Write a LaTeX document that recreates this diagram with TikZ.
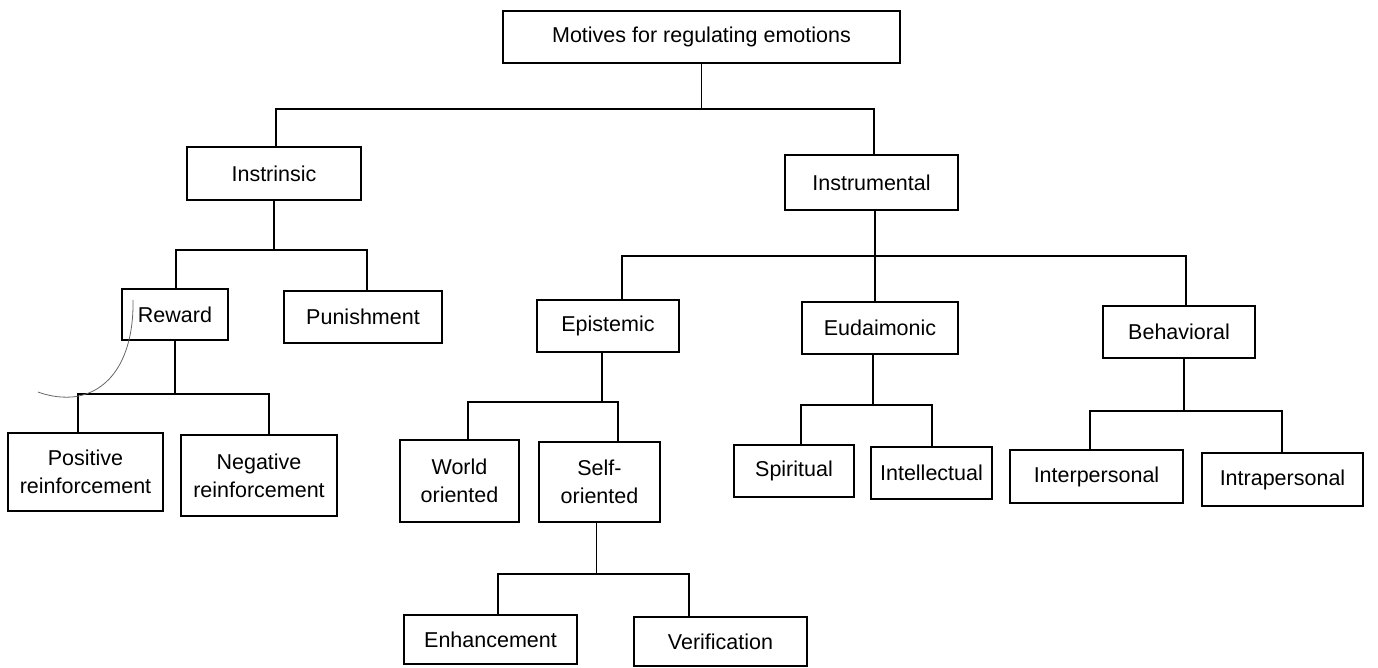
\documentclass[tikz,border=0pt]{standalone}
\usepackage{fontspec}
\setmainfont{Liberation Sans}
\begin{document}
\begin{tikzpicture}[x=0.5pt,y=-0.5pt,
  box/.style={draw, line width=0.9pt, inner sep=0pt, align=center,
    font=\fontsize{10.75}{14}\selectfont},
  conn/.style={line width=0.9pt},
  pencil/.style={draw=black!60, line width=0.4pt}]
\useasboundingbox (0,0) rectangle (1378,668);

% nodes
\node[box, minimum width=198.5pt, minimum height=26pt] (mot) at (701.5,37) {Motives for regulating emotions};
\node[box, minimum width=87pt, minimum height=26.5pt] (ins) at (274,173.5) {Instrinsic};
\node[box, minimum width=86.5pt, minimum height=27.5pt] (instr) at (871.5,182.5) {Instrumental};
\node[box, minimum width=53pt, minimum height=25.5pt] (rew) at (175,314.5) {Reward};
\node[box, minimum width=79pt, minimum height=26pt] (pun) at (363,317) {Punishment};
\node[box, minimum width=77.5pt, minimum height=39pt] (pos) at (85.5,472) {Positive\\reinforcement};
\node[box, minimum width=78pt, minimum height=40.5pt] (neg) at (259,475.5) {Negative\\reinforcement};
\node[box, minimum width=71pt, minimum height=26pt] (epi) at (608,326) {Epistemic};
\node[box, minimum width=78pt, minimum height=26pt] (eud) at (880,328) {Eudaimonic};
\node[box, minimum width=76pt, minimum height=26pt] (beh) at (1179,332) {Behavioral};
\node[box, minimum width=59.5pt, minimum height=41pt] (wor) at (459.5,481) {World\\oriented};
\node[box, minimum width=60.5pt, minimum height=40pt] (self) at (599.5,482) {Self-\\oriented};
\node[box, minimum width=86.5pt, minimum height=24.5pt] (enh) at (490.5,639.5) {Enhancement};
\node[box, minimum width=86.5pt, minimum height=24.5pt] (ver) at (720.5,641.5) {Verification};
\node[box, minimum width=60pt, minimum height=26pt] (spi) at (794,471) {Spiritual};
\node[box, minimum width=60.5pt, minimum height=26pt] (int) at (931.5,473) {Intellectual};
\node[box, minimum width=86.5pt, minimum height=26.5pt] (inter) at (1096.5,476.5) {Interpersonal};
\node[box, minimum width=80.5pt, minimum height=26.5pt] (intra) at (1282.5,479.5) {Intrapersonal};

% bar coordinates
\coordinate (a1) at (276,109);   \coordinate (b1) at (874,109);
\coordinate (a2) at (176,250);   \coordinate (b2) at (367,250);
\coordinate (a3) at (78,394);    \coordinate (b3) at (269,394);
\coordinate (a4) at (622,256);   \coordinate (m4) at (875,256);  \coordinate (b4) at (1186,256);
\coordinate (a5) at (468,402);   \coordinate (b5) at (618,402);
\coordinate (a6) at (498,574);   \coordinate (b6) at (689,574);
\coordinate (a7) at (801,405);   \coordinate (b7) at (932,405);
\coordinate (a8) at (1090,411);  \coordinate (b8) at (1282,411);

% connectors
\draw[conn] (mot.south) -- (mot.south |- a1);
\draw[conn] (ins.north -| a1) -- (a1) -- (b1) -- (b1 |- instr.north);

\draw[conn] (ins.south) -- (ins.south |- a2);
\draw[conn] (rew.north -| a2) -- (a2) -- (b2) -- (b2 |- pun.north);

\draw[conn] (rew.south) -- (rew.south |- a3);
\draw[conn] (pos.north -| a3) -- (a3) -- (b3) -- (b3 |- neg.north);

\draw[conn] (instr.south -| m4) -- (m4 |- eud.north);
\draw[conn] (epi.north -| a4) -- (a4) -- (b4) -- (b4 |- beh.north);

\draw[conn] ([xshift=-3pt]epi.south) -- ([xshift=-3pt]epi.south |- a5);
\draw[conn] (wor.north -| a5) -- (a5) -- (b5) -- (b5 |- self.north);

\draw[conn] ([xshift=-1.5pt]self.south) -- ([xshift=-1.5pt]self.south |- a6);
\draw[conn] (enh.north -| a6) -- (a6) -- (b6) -- (b6 |- ver.north);

\draw[conn] ([xshift=-3.5pt]eud.south) -- ([xshift=-3.5pt]eud.south |- a7);
\draw[conn] (spi.north -| a7) -- (a7) -- (b7) -- (b7 |- int.north);

\draw[conn] ([xshift=2.5pt]beh.south) -- ([xshift=2.5pt]beh.south |- a8);
\draw[conn] (inter.north -| a8) -- (a8) -- (b8) -- (b8 |- intra.north);

% pencil stroke near Reward
\draw[pencil] (133,300) .. controls (134,355) and (112,393) .. (72,397)
  .. controls (58,398) and (46,395) .. (38,392);
\end{tikzpicture}
\end{document}
